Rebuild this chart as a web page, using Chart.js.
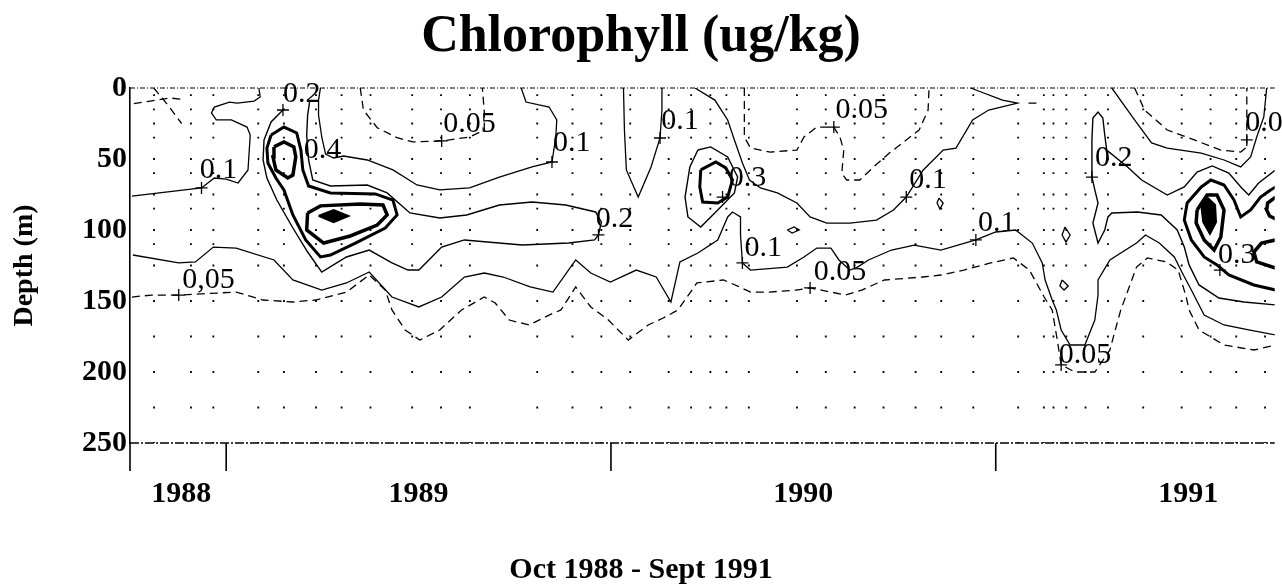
<!DOCTYPE html>
<html>
<head>
<meta charset="utf-8">
<title>Chlorophyll (ug/kg)</title>
<script src="https://cdn.jsdelivr.net/npm/chart.js@4.4.1/dist/chart.umd.min.js"></script>
<style>
  html, body { margin: 0; padding: 0; background: #fff; overflow: hidden; }
  #chart { display: block; }
</style>
</head>
<body>
<canvas id="chart" width="1282" height="588"></canvas>
<script>
// x = months since 1 Oct 1988, y = depth (m)
const yearNames = ["1988", "1989", "1990", "1991"];
const yearCentres = [1.6, 9, 21, 33];
const yearBreaks = [3, 15, 27];
const depthTicks = [0, 50, 100, 150, 200, 250];

// sampling casts and bottle depths
const stations = [0.75, 1.9, 2.6, 4.0, 4.8, 5.8, 6.6, 7.5, 8.8, 9.7, 10.6, 12.7, 13.8, 14.7, 15.6,
  16.8, 17.5, 18.1, 18.6, 19.3, 20.8, 21.7, 22.6, 23.5, 24.5, 25.3, 26.3, 27.7, 28.5, 28.8,
  29.2, 29.8, 30.5, 31.6, 32.8, 33.7, 34.5, 35.4];
const sampleDepths = [5, 15, 25, 35, 50, 60, 75, 85, 100, 110, 125, 150, 175, 200, 225, 250];

// 0.05 isoline (dashed)
const c05cornerA = [[0.74,0],[1.18,12],[1.61,25]];
const c05cornerB = [[0.12,11],[0.68,9],[1.24,7],[1.61,8]];
const c05surf89 = [[7.18,0],[7.28,15.5],[7.71,28],[8.33,35],[8.82,38],[9.72,37.3],[10.59,34.5],
  [11.05,29.6],[11.05,17],[10.99,0]];
const c05surf90 = [[19.16,0],[19.16,34.5],[19.35,42.3],[19.97,45.1],[20.8,43.7],[21.02,34.5],
  [21.42,27.5],[21.95,27.5],[22.14,34.5],[22.26,43.7],[22.2,59.9],[22.35,64.8],[22.76,64.8],
  [23.19,55.6],[23.68,45.8],[24.21,36.6],[24.61,29.6],[24.89,15.5],[24.92,0]];
const c05surf91 = [[31.33,0],[31.64,15.5],[32.35,29.6],[33.19,36.6],[34.02,43.7],[34.64,45.1],
  [34.83,41.5],[34.83,0]];
const c05tiny = [[28.02,10.6],[28.33,10.6]];
const c05deep = [[0.06,147.2],[0.68,145.8],[1.52,145.8],[2.23,145],[3.31,143.7],[4.15,149.3],
  [5.08,150.7],[5.79,149.3],[6.75,143.7],[7.46,131.7],[7.96,142.3],[8.17,156.3],[8.58,170.4],
  [9.04,177.5],[9.66,170.4],[10.34,156.3],[11.05,147.2],[11.39,151.4],[11.83,163.4],[12.45,166.9],
  [13.07,159.9],[13.44,156.3],[13.9,140.1],[14.37,154.2],[14.92,163.4],[15.54,177.5],[16.16,166.9],
  [16.63,162],[17.09,156.3],[17.68,137.3],[18.51,135.2],[19.01,140.1],[19.35,143.7],[19.94,143.7],
  [20.77,142.3],[21.21,140.8],[21.86,143.7],[22.32,145.8],[22.82,142.3],[23.53,135.2],[24.71,133.1],
  [25.29,131.7],[26.01,128.2],[26.84,123.2],[27.55,119.7],[28.05,128.2],[28.51,147.2],[28.76,156.3],
  [28.92,177.5],[29.04,195],[29.47,200],[30.09,200],[30.56,184.5],[30.77,166.9],[30.9,156.3],
  [31.39,126.1],[31.73,119.7],[32.32,122.5],[32.69,128.2],[32.94,147.2],[33.03,156.3],[33.34,170.4],
  [34.12,181],[35.05,184.5],[35.73,181]];

// 0.1 isoline
const c10west = [[0.06,76.1],[2.23,70.4],[2.63,63.4],[3.0,64.1],[3.37,66.9],[3.68,57.7],[3.72,43.7],
  [3.75,33.1],[3.65,27.5],[3.16,22.5],[2.69,22.5],[2.54,17.6],[2.63,13.4],[3.1,9.9],[3.34,10.6],
  [3.87,9.2],[4.06,6.3],[4.02,0]];
const c10east89 = [[5.94,0],[5.88,8.5],[5.88,19],[5.98,34.5],[6.1,46.5],[6.35,49.3],[6.66,47.9],
  [7.4,50.7],[8.2,57.7],[8.95,68.3],[9.66,71.8],[10.59,70.4],[11.52,62.7],[12.54,55.6],[13.16,52.1],
  [13.28,34.5],[13.31,22.5],[13.07,13.4],[12.35,9.9],[12.2,0]];
const c10finger = [[15.39,0],[15.42,29.6],[15.48,57.7],[15.85,76.8],[16.25,55.6],[16.53,35.2],
  [16.59,15.5],[16.59,0]];
const c10upper90 = [[17.62,0],[18.24,8.5],[18.64,22.5],[18.85,36.6],[19.1,52.8],[19.32,64.8],
  [19.66,70.4],[20.19,73.9],[20.8,81],[21.21,90.8],[21.73,95.1],[22.45,95.1],[23.28,93],[23.81,85.9],
  [24.21,76.8],[24.74,57.7],[25.36,43.7],[25.76,42.3],[26.28,22.5],[26.78,15.5],[27.68,10.6],
  [27.21,8.5],[26.38,1.4],[26.22,0]];
const c10surf91 = [[30.62,0],[31.33,22.5],[31.86,38.7],[32.35,42.3],[33.41,45.8],[34.12,50.7],
  [34.64,55.6],[34.95,48.6],[35.14,34.5],[35.36,20.4],[35.45,0]];
const c10deep = [[0.09,117.6],[1.52,123.2],[2.04,122.5],[2.6,112],[3.31,112.7],[4.49,121.1],
  [5.08,135.2],[5.98,142.3],[6.75,137.3],[7.46,129.6],[8.17,147.2],[9.01,154.2],[9.72,147.2],
  [10.43,133.1],[11.05,130.3],[11.64,133.1],[12.48,140.1],[13.19,143.7],[13.9,121.1],[14.37,130.3],
  [14.98,136.6],[15.79,128.2],[16.41,133.1],[16.87,150.7],[17.15,122.5],[17.71,116.2],[18.33,107],
  [18.64,90.8],[18.79,87.3],[19.04,90.8],[19.04,103.5],[19.1,123.2],[19.35,128.2],[20.5,126.1],
  [21.02,119],[21.42,112.7],[21.86,112.7],[22.11,121.1],[22.45,128.2],[22.69,126.1],[23.03,121.1],
  [23.75,114.1],[24.46,110.6],[25.29,114.1],[26.38,107],[27.0,101.4],[27.62,100],[28.14,109.2],
  [28.45,123.2],[28.54,135.2],[28.76,149.3],[28.89,156.3],[29.04,170.4],[29.32,181],[29.78,181],
  [30.09,163.4],[30.19,145.8],[30.19,135.2],[30.56,121.1],[31.39,109.2],[31.67,103.5],[32.1,109.2],
  [32.57,119],[32.82,130.3],[33.1,142.3],[33.5,159.9],[34.12,166.9],[34.89,170.4],[35.73,173.9]];
const c10loopA = [[25.23,77.5],[25.36,81],[25.26,85.2],[25.17,81],[25.23,77.5]];
const c10loopB = [[29.16,97.9],[29.32,103.5],[29.19,108.5],[29.07,103.5],[29.16,97.9]];
const c10loopC = [[29.07,135.2],[29.26,139.4],[29.13,142.3],[29.0,139.4],[29.07,135.2]];
const c10loopD = [[20.5,100],[20.71,97.9],[20.87,100],[20.65,102.1],[20.5,100]];

// 0.2 isoline
const c20peak89 = [[4.77,15.5],[4.4,23.9],[4.18,36.6],[4.15,50.7],[4.27,63.4],[4.58,78.9],[5.08,98.6],
  [5.54,115.5],[5.98,129.6],[6.75,119],[7.46,114.1],[8.17,123.2],[8.67,128.2],[9.01,128.2],
  [9.72,112],[10.43,107],[12.23,110.6],[13.68,109.2],[14.49,107],[14.61,103.5],[14.7,94.4],
  [14.52,87.3],[13.59,82.4],[12.54,80.3],[11.52,82.4],[10.5,89.4],[9.66,91.5],[8.73,88],[8.02,73.9],
  [7.4,68.3],[6.25,69],[5.7,64.8],[5.57,50.7],[5.51,33.1],[5.54,19],[5.6,9.9]];
const c20blob90 = [[17.71,43.7],[18.11,41.5],[18.64,48.6],[18.95,62.7],[18.85,73.9],[18.33,85.9],
  [17.8,97.9],[17.4,90.8],[17.31,76.8],[17.46,55.6],[17.71,43.7]];
const c20peak91 = [[35.73,57.7],[35.2,66.9],[34.89,75.4],[34.67,70.4],[34.27,59.9],[33.75,54.9],
  [33.28,59.2],[32.88,69.7],[32.35,75.4],[31.55,64.8],[31.11,55.6],[30.46,43.7],[30.4,33.1],
  [30.34,21.1],[30.19,16.9],[30.03,21.1],[30.0,36.6],[30.0,62.7],[30.09,71.8],[30.19,81],[30.03,95.1],
  [30.19,109.2],[30.4,100],[30.5,90.8],[30.62,88],[31.42,87.3],[32.16,89.4],[32.66,100],[32.88,112],
  [33.03,124.6],[33.34,138.7],[33.96,147.9],[34.74,150.7],[35.73,152.8]];

// 0.3 isoline (heavy)
const c30peak89 = [[4.4,33.1],[4.8,27.5],[5.2,31.7],[5.33,43.7],[5.39,57.7],[5.57,69],[6.25,73.9],
  [7.65,74.6],[8.2,78.9],[8.33,89.4],[7.96,98.6],[7.03,109.2],[6.25,117.6],[5.94,119],[5.48,107],
  [5.08,89.4],[4.8,71.8],[4.55,63.4],[4.3,52.8],[4.27,42.3],[4.4,33.1]];
const c30blob90 = [[17.8,57.7],[18.27,52.1],[18.58,56.3],[18.79,64.8],[18.64,76.8],[18.33,81],
  [17.86,80.3],[17.77,69.7],[17.8,57.7]];
const c30peak91 = [[35.73,69.7],[35.57,71.8],[35.26,76.8],[34.95,85.9],[34.64,90.8],[34.43,78.9],
  [34.12,68.3],[33.71,64.8],[33.41,69.7],[32.97,81],[32.88,93],[33.1,107],[33.5,119],[33.9,124.6],
  [34.27,131.7],[35.05,138.7],[35.73,142.3]];

// 0.4 isoline (heavy)
const c40peak89a = [[4.49,41.5],[4.8,38],[5.11,41.5],[5.17,48.6],[5.08,61.3],[4.92,63.4],[4.55,57.7],
  [4.46,48.6],[4.49,41.5]];
const c40peak89b = [[5.54,88],[5.94,83],[7.18,81.7],[7.89,82.4],[8.02,89.4],[7.71,96.5],[6.87,104.2],
  [6.04,109.2],[5.51,100],[5.54,88]];
const c40peak91 = [[33.28,85.9],[33.59,75.4],[33.9,75.4],[34.12,85.9],[34.02,104.9],[33.81,114.1],
  [33.5,107],[33.25,95.1],[33.28,85.9]];
const c40edgeA = [[35.73,76.8],[35.48,81],[35.45,85.9],[35.54,90.1],[35.73,92.3]];
const c40edgeB = [[35.73,107],[35.29,109.2],[35.05,115.5],[35.14,122.5],[35.73,126.8]];

// 0.5 cores (filled)
const c50peak89 = [[5.88,90.1],[6.35,85.9],[6.81,90.1],[6.35,94.4],[5.88,90.1]];
const c50peak91 = [[33.41,82.4],[33.62,77.5],[33.84,82.4],[33.87,94.4],[33.68,102.8],[33.47,94.4],
  [33.41,82.4]];

// label anchors (+) and label texts
const plusMarks = [[4.77,15.5],[2.23,70.4],[1.52,145.8],[9.72,37.3],[13.16,52.1],[16.53,35.2],
  [14.61,103.5],[18.48,76.8],[19.1,123.2],[21.21,140.8],[21.95,27.5],[24.21,76.8],[26.38,107],
  [30.0,62.7],[29.04,195],[33.99,128.2],[34.83,36.6]];
const labelTexts = ["0.2", "0.4", "0.1", "0,05", "0.05", "0.1", "0.1", "0.05", "0.3", "0.2", "0.1",
  "0.05", "0.1", "0.1", "0.2", "0.05", "0.3", "0.05"];
const labelAt = [[5.36,4.2],[6.0,43.7],[2.76,57.7],[2.45,135.2],[10.59,25.4],[13.78,38.7],[17.15,23.2],
  [22.82,15.5],[19.26,63.4],[15.11,92.3],[19.75,112.7],[22.14,129.6],[24.89,64.8],[27.03,95.1],
  [30.68,49.3],[29.78,188],[34.52,117.6],[35.6,24.6]];

const serif = "'Liberation Serif', 'Times New Roman', serif";

function pts(list) {
  return list.map(p => ({ x: p[0], y: p[1] }));
}

// one polyline per isoline piece
function isoline(list, width, dash) {
  return {
    data: pts(list),
    showLine: true,
    borderColor: "#000",
    borderWidth: width,
    borderDash: dash || [],
    pointRadius: 0,
    tension: 0,
    fill: false
  };
}

function core(list) {
  return {
    data: pts(list),
    showLine: true,
    borderColor: "#000",
    backgroundColor: "#000",
    borderWidth: 2,
    pointRadius: 0,
    tension: 0,
    fill: "shape"
  };
}

const samples = [];
stations.forEach(m => sampleDepths.forEach(d => samples.push({ x: m, y: d })));

const dashed = [8, 5];
const datasets = [
  { data: samples, pointStyle: "rect", pointRadius: 1.3, backgroundColor: "#000", borderWidth: 0 },
  ...[c05cornerA, c05cornerB, c05surf89, c05surf90, c05surf91, c05tiny, c05deep].map(c => isoline(c, 1.3, dashed)),
  ...[c10west, c10east89, c10finger, c10upper90, c10surf91, c10deep, c10loopA, c10loopB, c10loopC, c10loopD].map(c => isoline(c, 1.3)),
  ...[c20peak89, c20blob90, c20peak91].map(c => isoline(c, 1.4)),
  ...[c30peak89, c30blob90, c30peak91].map(c => isoline(c, 3)),
  ...[c40peak89a, c40peak89b, c40peak91, c40edgeA, c40edgeB].map(c => isoline(c, 3.5)),
  core(c50peak89),
  core(c50peak91),
  { data: pts(plusMarks), pointStyle: "cross", pointRadius: 6, borderColor: "#000", borderWidth: 1.3 }
];

// frame pieces, year marks, titles and isoline labels
const decorations = {
  id: "decorations",
  afterDatasetsDraw(chart) {
    const { ctx, scales: { x, y } } = chart;
    ctx.save();
    ctx.fillStyle = "#000";
    ctx.font = "30px " + serif;
    ctx.textAlign = "center";
    ctx.textBaseline = "middle";
    labelTexts.forEach((t, i) => {
      ctx.fillText(t, x.getPixelForValue(labelAt[i][0]), y.getPixelForValue(labelAt[i][1]));
    });
    ctx.restore();
  },
  afterDraw(chart) {
    const { ctx, chartArea: a, scales: { x, y } } = chart;
    ctx.save();
    ctx.strokeStyle = "#000";

    // surface line
    ctx.lineWidth = 1;
    ctx.setLineDash([5, 2, 1, 2]);
    ctx.beginPath();
    ctx.moveTo(a.left, y.getPixelForValue(0));
    ctx.lineTo(a.right, y.getPixelForValue(0));
    ctx.stroke();

    // 250 m line
    ctx.lineWidth = 1.5;
    ctx.setLineDash([9, 2, 2, 2]);
    ctx.beginPath();
    ctx.moveTo(a.left, y.getPixelForValue(250));
    ctx.lineTo(a.right, y.getPixelForValue(250));
    ctx.stroke();

    // year boundaries and axis stub
    ctx.setLineDash([]);
    ctx.lineWidth = 1.6;
    ctx.beginPath();
    [0, ...yearBreaks].forEach(m => {
      const px = m === 0 ? a.left : x.getPixelForValue(m);
      ctx.moveTo(px, a.bottom);
      ctx.lineTo(px, a.bottom + 28);
    });
    ctx.stroke();

    ctx.fillStyle = "#000";
    ctx.textAlign = "center";
    ctx.textBaseline = "middle";
    ctx.font = "bold 52px " + serif;
    ctx.fillText("Chlorophyll (ug/kg)", 641, 38);
    ctx.font = "bold 30px " + serif;
    ctx.fillText("Oct 1988 - Sept 1991", 641, 570);
    ctx.restore();
  }
};

new Chart(document.getElementById("chart"), {
  type: "scatter",
  data: { datasets },
  options: {
    responsive: false,
    animation: false,
    devicePixelRatio: 1,
    events: [],
    layout: { padding: { top: 88, left: 0, right: 0, bottom: 0 } },
    plugins: { legend: { display: false }, tooltip: { enabled: false } },
    scales: {
      x: {
        type: "linear",
        min: 0,
        max: 35.7,
        grid: { display: false, drawTicks: false },
        border: { display: false },
        afterFit: s => { s.height = 145; },
        afterBuildTicks: s => { s.ticks = yearCentres.map(v => ({ value: v })); },
        ticks: {
          autoSkip: false,
          maxRotation: 0,
          padding: 33,
          color: "#000",
          font: { family: serif, size: 30, weight: "bold" },
          callback: (v, i) => yearNames[i]
        }
      },
      y: {
        type: "linear",
        reverse: true,
        min: 0,
        max: 250,
        grid: { display: false, drawTicks: false },
        border: { display: true, color: "#000", width: 1.6 },
        afterFit: s => { s.width = 130; },
        afterBuildTicks: s => { s.ticks = depthTicks.map(v => ({ value: v })); },
        ticks: {
          padding: 3,
          color: "#000",
          font: { family: serif, size: 30, weight: "bold" }
        },
        title: {
          display: true,
          text: "Depth (m)",
          color: "#000",
          padding: { top: 8, bottom: 0 },
          font: { family: serif, size: 28, weight: "bold" }
        }
      }
    }
  },
  plugins: [decorations]
});
</script>
</body>
</html>
